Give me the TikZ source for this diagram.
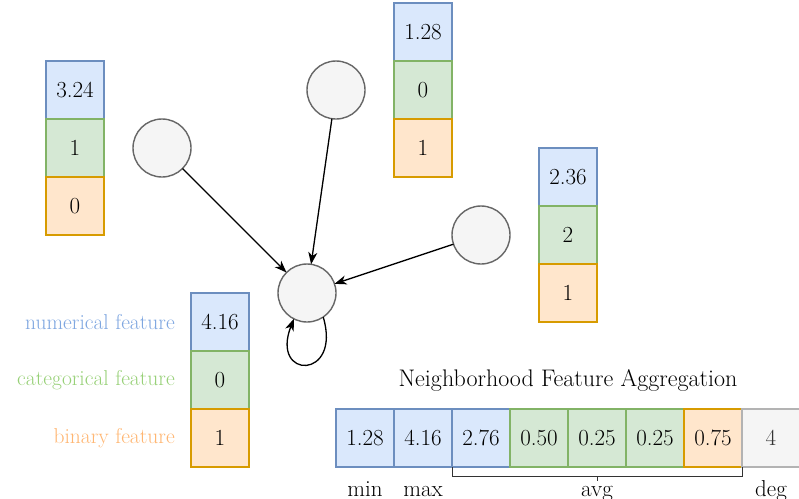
\documentclass[tikz,border=0pt]{standalone}
\usetikzlibrary{arrows.meta}
\definecolor{bluefill}{HTML}{DAE8FC}
\definecolor{bluedraw}{HTML}{6C8EBF}
\definecolor{greenfill}{HTML}{D5E8D4}
\definecolor{greendraw}{HTML}{82B366}
\definecolor{orangefill}{HTML}{FFE6CC}
\definecolor{orangedraw}{HTML}{D79B00}
\definecolor{grayfill}{HTML}{F5F5F5}
\definecolor{graydraw}{HTML}{666666}
\definecolor{lightdraw}{HTML}{B3B3B3}
\definecolor{graytext}{HTML}{333333}
\definecolor{numcol}{HTML}{7EA6E0}
\definecolor{catcol}{HTML}{97D077}
\definecolor{bincol}{HTML}{FFB570}
\tikzset{
  cell/.style={draw, minimum width=58pt, minimum height=58pt, inner sep=0pt, outer sep=0pt, line width=1.3pt},
  num/.style={cell, fill=bluefill, draw=bluedraw},
  cat/.style={cell, fill=greenfill, draw=greendraw},
  bin/.style={cell, fill=orangefill, draw=orangedraw},
  degcell/.style={cell, fill=grayfill, draw=lightdraw, text=graytext},
  gnode/.style={circle, draw=graydraw, fill=grayfill, line width=1.4pt, minimum size=58pt, inner sep=0pt, outer sep=0pt},
  edge/.style={line width=1.3pt, -{Stealth[length=12pt,width=9pt,inset=3.5pt]}},
  lbl/.style={anchor=east, inner sep=0pt, font=\fontsize{21.5}{24}\selectfont},
  bot/.style={anchor=base, inner sep=0pt},
}
\begin{document}
\begin{tikzpicture}[x=1pt, y=-1pt, font=\fontsize{23}{26}\selectfont]
\useasboundingbox (0,0) rectangle (799,498);
% left stack
\node[num] (L1) at (75,90) {3.24};
\node[cat] (L2) at (75,148) {1};
\node[bin] (L3) at (75,206) {0};
% top stack
\node[num] (T1) at (423,32) {1.28};
\node[cat] (T2) at (423,90) {0};
\node[bin] (T3) at (423,148) {1};
% right stack
\node[num] (R1) at (568,177) {2.36};
\node[cat] (R2) at (568,235) {2};
\node[bin] (R3) at (568,293) {1};
% self stack
\node[num] (S1) at (220,322) {4.16};
\node[cat] (S2) at (220,380) {0};
\node[bin] (S3) at (220,438) {1};
\node[lbl, text=numcol] (ln) at (175,322) {numerical feature};
\node[lbl, text=catcol] (lc) at (175,380) {categorical feature};
\node[lbl, text=bincol] (lb) at (175,438) {binary feature};
% graph nodes
\node[gnode] (na) at (162,148) {};
\node[gnode] (nb) at (336,90) {};
\node[gnode] (nc) at (481,235) {};
\node[gnode] (nd) at (307,293) {};
\draw[edge] (na) -- (nd);
\draw[edge] (nb) -- (nd);
\draw[edge] (nc) -- (nd);
\draw[edge] (nd.-56) .. controls (342,380) and (270,380) .. (nd.-117);
% aggregation row
\node[font=\fontsize{24}{27}\selectfont] (title) at (568,380) {Neighborhood Feature Aggregation};
\node[num] (a1) at (365,438) {1.28};
\node[num] (a2) at (423,438) {4.16};
\node[num] (a3) at (481,438) {2.76};
\node[cat] (a4) at (539,438) {0.50};
\node[cat] (a5) at (597,438) {0.25};
\node[cat] (a6) at (655,438) {0.25};
\node[bin] (a7) at (713,438) {0.75};
\node[degcell] (a8) at (771,438) {4};
\draw[line width=0.9pt, graytext] (a3.south west) -- ++(0,9) coordinate (bl) -- (bl -| a7.south east) -- (a7.south east);
\draw[line width=0.9pt, graytext] (bl -| a5.south) -- ++(0,5);
\node[bot] (tmin) at (365,496) {min};
\node[bot] (tmax) at (423,496) {max};
\node[bot] (tavg) at (597,496) {avg};
\node[bot] (tdeg) at (771,496) {deg};
\end{tikzpicture}
\end{document}
